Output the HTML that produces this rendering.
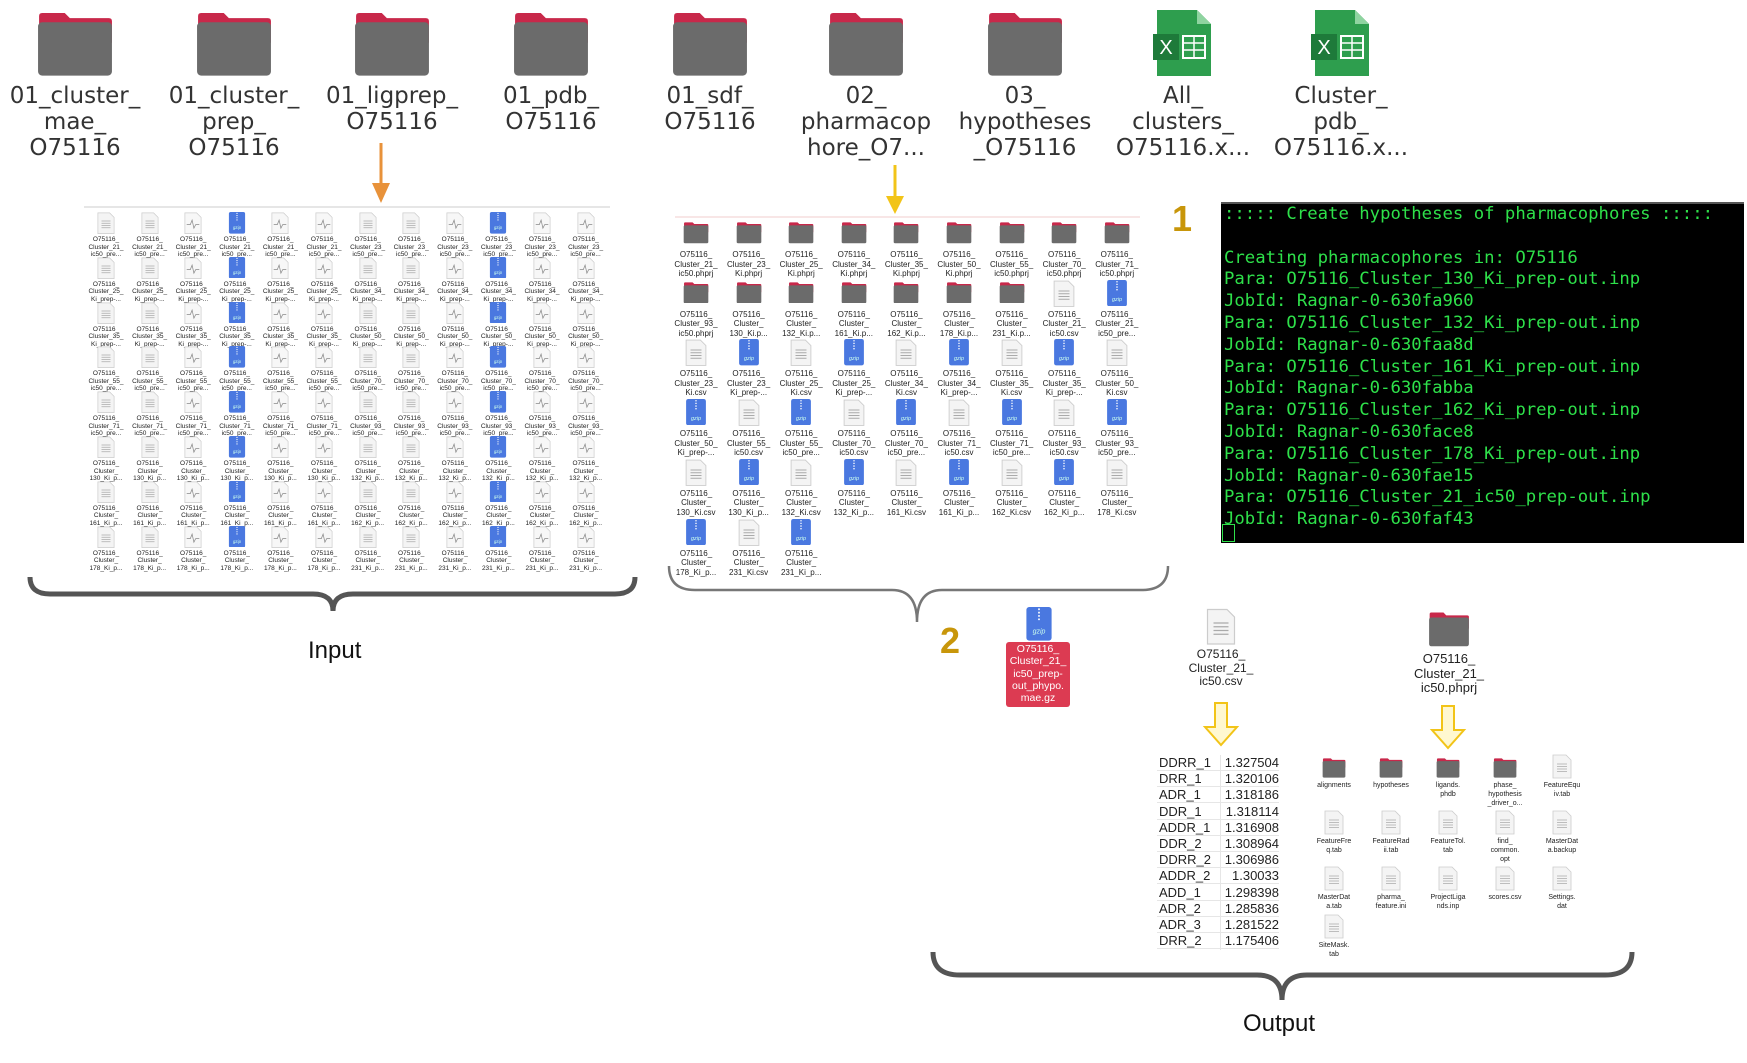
<!DOCTYPE html>
<html><head><meta charset="utf-8"><style>
body{margin:0;width:1747px;height:1063px;background:#fff;position:relative;overflow:hidden;font-family:"Liberation Sans","DejaVu Sans",sans-serif}
.a{position:absolute}
.lbl{position:absolute;text-align:center;color:#222;white-space:nowrap}
.big{font-size:23px;line-height:26px;color:#333;font-family:"DejaVu Sans","Liberation Sans",sans-serif}
#term{position:absolute;left:1221px;top:202px;width:523px;height:339px;background:#000;border-top:2px solid #555}
#term pre{margin:0;padding:0 0 0 3px;font-family:"DejaVu Sans Mono","Liberation Mono",monospace;font-size:17.3px;line-height:21.8px;color:#2ee04a}
</style></head><body>
<div id="root"></div>
<div id="term"><pre>::::: Create hypotheses of pharmacophores :::::

Creating pharmacophores in: O75116
Para: O75116_Cluster_130_Ki_prep-out.inp
JobId: Ragnar-0-630fa960
Para: O75116_Cluster_132_Ki_prep-out.inp
JobId: Ragnar-0-630faa8d
Para: O75116_Cluster_161_Ki_prep-out.inp
JobId: Ragnar-0-630fabba
Para: O75116_Cluster_162_Ki_prep-out.inp
JobId: Ragnar-0-630face8
Para: O75116_Cluster_178_Ki_prep-out.inp
JobId: Ragnar-0-630fae15
Para: O75116_Cluster_21_ic50_prep-out.inp
JobId: Ragnar-0-630faf43</pre><div class="a" style="left:1px;top:320px;width:11px;height:16px;border:1.5px solid #2ee04a"></div></div>
<div class="a" style="left:1172px;top:198px;font-size:36px;font-weight:bold;color:#c8960a">1</div>
<div class="a" style="left:940px;top:620px;font-size:36px;font-weight:bold;color:#c8960a">2</div>
<div class="a" style="left:308px;top:637px;font-size:24px;color:#111">Input</div>
<div class="a" style="left:1243px;top:1010px;font-size:24px;color:#111">Output</div>
<svg class="a" style="left:0;top:0" width="1747" height="1063">
<line x1="381" y1="143" x2="381" y2="185" stroke="#e8923a" stroke-width="3"/>
<polygon points="372,183 390,183 381,203" fill="#e8923a"/>
<line x1="895" y1="165" x2="895" y2="198" stroke="#f2c418" stroke-width="3"/>
<polygon points="886,196 904,196 895,214" fill="#f2c418"/>
<line x1="84" y1="207" x2="610" y2="207" stroke="#ddd" stroke-width="1.5"/>
<line x1="675" y1="217" x2="1140" y2="217" stroke="#f5dede" stroke-width="1.5"/>
<path d="M30,577 Q30,594 50,594 L313,594 Q333,594 333,611 Q333,594 353,594 L615,594 Q635,594 635,577" fill="none" stroke="#555" stroke-width="5"/>
<path d="M669,566 Q669,590 695,590 L892,590 Q917,590 917,622 Q917,590 942,590 L1142,590 Q1168,590 1168,566" fill="none" stroke="#777" stroke-width="2.5"/>
<path d="M933,952 Q933,975 960,975 L1257,975 Q1282,975 1282,1000 Q1282,975 1307,975 L1605,975 Q1632,975 1632,952" fill="none" stroke="#555" stroke-width="5"/>
<path d="M1215,703 h12 v24 h10 l-16,18 l-16,-18 h10 z" fill="#fff8d0" stroke="#f2c418" stroke-width="2"/>
<path d="M1442,706 h12 v24 h10 l-16,18 l-16,-18 h10 z" fill="#fff8d0" stroke="#f2c418" stroke-width="2"/>
</svg>
<div class="a" style="left:1006px;top:642px;width:64px;height:64px;background:#dc3b52;border-radius:3px;color:#fff;font-size:10.5px;line-height:12.3px;text-align:center;padding-top:1px">O75116_<br>Cluster_21_<br>ic50_prep-<br>out_phypo.<br>mae.gz</div>
<script>
(function(){
var R=document.getElementById('root'),h='';
function folder(x,y,w){var H=63*w/76;return '<svg class="a" style="left:'+(x-w/2)+'px;top:'+y+'px" width="'+w+'" height="'+H+'" viewBox="0 0 76 63"><path d="M3,4 Q3,1 6,1 H28 L33,6 H71 Q74,6 74,9 V30 H3Z" fill="#c8284a"/><rect x="2" y="10" width="72" height="52" rx="4" fill="#6b6b6b"/></svg>';}
function doc(x,y,w){var H=w*1.25;return '<svg class="a" style="left:'+(x-w/2)+'px;top:'+y+'px" width="'+w+'" height="'+H+'" viewBox="0 0 20 25"><path d="M1,1 H14 L19,6 V24 H1Z" fill="#f4f4f4" stroke="#ccc" stroke-width="0.8"/><path d="M5,10h10M5,12.5h10M5,15h10M5,17.5h10" stroke="#aaa" stroke-width="0.8"/></svg>';}
function wave(x,y,w){var H=w*1.25;return '<svg class="a" style="left:'+(x-w/2)+'px;top:'+y+'px" width="'+w+'" height="'+H+'" viewBox="0 0 20 25"><path d="M1,1 H14 L19,6 V24 H1Z" fill="#f7f7f7" stroke="#ccc" stroke-width="0.8"/><path d="M3,14 h4 l2,-5 l2,9 l2,-4 h4" fill="none" stroke="#888" stroke-width="0.8"/></svg>';}
function gz(x,y,w){var H=w*1.2;return '<svg class="a" style="left:'+(x-w/2)+'px;top:'+y+'px" width="'+w+'" height="'+H+'" viewBox="0 0 20 24"><rect x="1" y="0" width="18" height="24" rx="2" fill="#4a78e0"/><path d="M10,1v9" stroke="#fff" stroke-width="1.2" stroke-dasharray="1.2,1.2"/><text x="10" y="19" font-size="5" fill="#cfe" text-anchor="middle" font-style="italic">gzip</text></svg>';}
function xl(x,y){return '<svg class="a" style="left:'+(x-32)+'px;top:'+y+'px" width="64" height="70" viewBox="0 0 64 70"><path d="M6,2 H46 L60,16 V68 H6Z" fill="#2e9e4e"/><path d="M46,2 V16 H60" fill="#8fd4a0"/><rect x="2" y="26" width="26" height="26" fill="#1e7a3a"/><text x="15" y="46" font-size="20" fill="#fff" text-anchor="middle" font-family="Liberation Sans">X</text><rect x="32" y="28" width="22" height="22" fill="none" stroke="#fff" stroke-width="2"/><path d="M32,35h22M32,42h22M43,28v22" stroke="#fff" stroke-width="1.5"/></svg>';}
function lbl(x,y,t,fs,lh,cls){h+='<div class="lbl '+(cls||'')+'" style="left:'+(x-70)+'px;width:140px;top:'+y+'px;font-size:'+fs+'px;line-height:'+lh+'px">'+t.join('<br>')+'</div>';}
var tops=[['01_cluster_','mae_','O75116'],['01_cluster_','prep_','O75116'],['01_ligprep_','O75116'],['01_pdb_','O75116'],['01_sdf_','O75116'],['02_','pharmacop','hore_O7...'],['03_','hypotheses','_O75116'],['All_','clusters_','O75116.x...'],['Cluster_','pdb_','O75116.x...']];
var tx=[75,234,392,551,710,866,1025,1183,1341];
for(var i=0;i<9;i++){ if(i<7) h+=folder(tx[i],12,78); else h+=xl(tx[i],8); lbl(tx[i],83,tops[i],23,26,'big');}
var cl=['21','25','35','55','71','130','161','178'],sfx=['ic50_pre...','Ki_prep-...','Ki_prep-...','ic50_pre...','ic50_pre...','Ki_p...','Ki_p...','Ki_p...'],pat=[doc,doc,wave,gz,wave,wave];
var cl2=['23','34','50','70','93','132','162','231'];
for(var r=0;r<8;r++)for(var c=0;c<12;c++){var x=106+c*43.6,y=212+r*44.8;h+=pat[c%6](x,y,18);var n=c<6?cl[r]:cl2[r];var t=r<5?['O75116_','Cluster_'+n+'_',sfx[r]]:['O75116_','Cluster_',n+'_Ki_p...'];lbl(x,y+24,t,6.5,7.5);}
var g2=[
[['F','21_','ic50.phprj'],['F','23_','Ki.phprj'],['F','25_','Ki.phprj'],['F','34_','Ki.phprj'],['F','35_','Ki.phprj'],['F','50_','Ki.phprj'],['F','55_','ic50.phprj'],['F','70_','ic50.phprj'],['F','71_','ic50.phprj']],
[['F','93_','ic50.phprj'],['F','','130_Ki.p...'],['F','','132_Ki.p...'],['F','','161_Ki.p...'],['F','','162_Ki.p...'],['F','','178_Ki.p...'],['F','','231_Ki.p...'],['D','21_','ic50.csv'],['G','21_','ic50_pre...']],
[['D','23_','Ki.csv'],['G','23_','Ki_prep-...'],['D','25_','Ki.csv'],['G','25_','Ki_prep-...'],['D','34_','Ki.csv'],['G','34_','Ki_prep-...'],['D','35_','Ki.csv'],['G','35_','Ki_prep-...'],['D','50_','Ki.csv']],
[['G','50_','Ki_prep-...'],['D','55_','ic50.csv'],['G','55_','ic50_pre...'],['D','70_','ic50.csv'],['G','70_','ic50_pre...'],['D','71_','ic50.csv'],['G','71_','ic50_pre...'],['D','93_','ic50.csv'],['G','93_','ic50_pre...']],
[['D','','130_Ki.csv'],['G','','130_Ki_p...'],['D','','132_Ki.csv'],['G','','132_Ki_p...'],['D','','161_Ki.csv'],['G','','161_Ki_p...'],['D','','162_Ki.csv'],['G','','162_Ki_p...'],['D','','178_Ki.csv']],
[['G','','178_Ki_p...'],['D','','231_Ki.csv'],['G','','231_Ki_p...']]];
for(var r=0;r<6;r++)for(var c=0;c<g2[r].length;c++){var it=g2[r][c],x=696+c*52.6,y=220+r*59.7;
 if(it[0]=='F')h+=folder(x,y+2,26);else if(it[0]=='D')h+=doc(x,y,22);else h+=gz(x,y,22);
 lbl(x,y+30,['O75116_','Cluster_'+it[1],it[2]],8,9.5);}
h+=gz(1039,607,28);
h+=doc(1221,608,30);lbl(1221,648,['O75116_','Cluster_21_','ic50.csv'],12,13.5);
h+=folder(1449,612,42);lbl(1449,652,['O75116_','Cluster_21_','ic50.phprj'],13,14.5);
var tb=[['DDRR_1','1.327504'],['DRR_1','1.320106'],['ADR_1','1.318186'],['DDR_1','1.318114'],['ADDR_1','1.316908'],['DDR_2','1.308964'],['DDRR_2','1.306986'],['ADDR_2','1.30033'],['ADD_1','1.298398'],['ADR_2','1.285836'],['ADR_3','1.281522'],['DRR_2','1.175406']];
for(var i=0;i<12;i++){var y=755+i*16.2;h+='<div class="a" style="left:1157px;top:'+y+'px;width:122px;height:15px;border-bottom:1.5px solid #e6e6e6;font-size:13px;line-height:15px;color:#222"><span style="position:absolute;left:2px">'+tb[i][0]+'</span><span style="position:absolute;right:0">'+tb[i][1]+'</span></div>';}
h+='<div class="a" style="left:1220px;top:755px;width:1px;height:195px;background:#e6e6e6"></div>';
var of=[[['F','alignments'],['F','hypotheses'],['F','ligands.','phdb'],['F','phase_','hypothesis','_driver_o...'],['D','FeatureEqu','iv.tab']],
[['D','FeatureFre','q.tab'],['D','FeatureRad','ii.tab'],['D','FeatureTol.','tab'],['D','find_','common.','opt'],['D','MasterDat','a.backup']],
[['D','MasterDat','a.tab'],['D','pharma_','feature.ini'],['D','ProjectLiga','nds.inp'],['D','scores.csv'],['D','Settings.','dat']],
[['D','SiteMask.','tab']]];
var oy=[756,812,868,916];
for(var r=0;r<4;r++)for(var c=0;c<of[r].length;c++){var it=of[r][c],x=1334+c*57,y=oy[r];
 if(it[0]=='F')h+=folder(x,y+2,24);else h+=doc(x,y-2,20);lbl(x,y+25,it.slice(1),7,9);}
R.innerHTML=h;
})();
</script>
</body></html>
